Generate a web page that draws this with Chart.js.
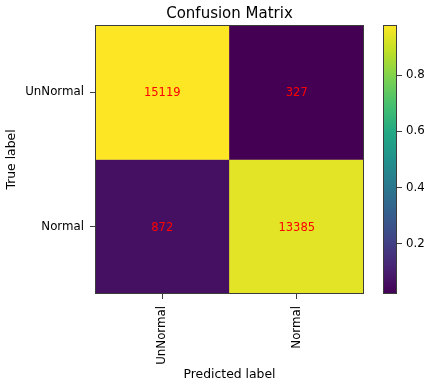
<!DOCTYPE html>
<html>
<head>
<meta charset="utf-8">
<script src="https://cdn.jsdelivr.net/npm/chart.js@4/dist/chart.umd.min.js"></script>
<style>
  html, body { margin: 0; padding: 0; background: #fff; }
  #wrap { position: relative; width: 424px; height: 384px; }
  #wrap canvas { position: absolute; left: 0; top: 0; }
</style>
</head>
<body>
<div id="wrap">
  <canvas id="matrix" width="424" height="384"></canvas>
  <canvas id="cbar" width="424" height="384"></canvas>
</div>
<script>
// Class names shared by both axes
const classLabels = ['UnNormal', 'Normal'];
// Counts per true class (rows), by predicted class (columns)
const rowUnNormal = [15119, 327];
const rowNormal = [872, 13385];
const countRows = [rowUnNormal, rowNormal];
// Colour bar tick values
const colorbarTicks = [0.2, 0.4, 0.6, 0.8];

// Row-normalised rates drive the colours
const rateRows = countRows.map(r => {
  const s = r.reduce((a, b) => a + b, 0);
  return r.map(v => v / s);
});
const allRates = rateRows.flat();
const vmin = Math.min(...allRates);
const vmax = Math.max(...allRates);

// Viridis colormap stops
const viridis = ['#440154', '#482475', '#414487', '#355f8d', '#2a788e', '#21918c',
                 '#22a884', '#44bf70', '#7ad151', '#bddf26', '#fde725'];
function hexToRgb(h) {
  return [parseInt(h.slice(1, 3), 16), parseInt(h.slice(3, 5), 16), parseInt(h.slice(5, 7), 16)];
}
function viridisAt(t) {
  t = Math.max(0, Math.min(1, t));
  const p = t * (viridis.length - 1);
  const i = Math.min(Math.floor(p), viridis.length - 2);
  const f = p - i;
  const a = hexToRgb(viridis[i]), b = hexToRgb(viridis[i + 1]);
  const c = a.map((v, k) => Math.round(v + (b[k] - v) * f));
  return `rgb(${c[0]},${c[1]},${c[2]})`;
}
function colorFor(v) { return viridisAt((v - vmin) / (vmax - vmin)); }

const FONT = 'DejaVu Sans';
const TICK_SIZE = 11.8;
const frameColor = '#3c3c3c';

// Frame around the plotting area
const framePlugin = {
  id: 'frame',
  afterDraw(chart) {
    const { ctx, chartArea: a } = chart;
    ctx.save();
    ctx.strokeStyle = frameColor;
    ctx.lineWidth = 1;
    ctx.strokeRect(Math.round(a.left) + 0.5, Math.round(a.top) + 0.5,
                   Math.round(a.right - a.left) - 1, Math.round(a.bottom - a.top) - 1);
    ctx.restore();
  }
};

// Count annotations in the middle of each cell
const countLabels = {
  id: 'countLabels',
  afterDatasetsDraw(chart) {
    const { ctx } = chart;
    ctx.save();
    ctx.font = `11.5px "${FONT}"`;
    ctx.fillStyle = '#ff0000';
    ctx.textAlign = 'center';
    ctx.textBaseline = 'middle';
    chart.data.datasets.forEach((ds, di) => {
      const meta = chart.getDatasetMeta(di);
      meta.data.forEach((el, ci) => {
        const cy = (el.y + el.base) / 2;
        ctx.fillText(String(countRows[di][ci]), el.x, cy + 1);
      });
    });
    ctx.restore();
  }
};

new Chart(document.getElementById('matrix'), {
  type: 'bar',
  data: {
    labels: classLabels,
    datasets: countRows.map((row, r) => ({
      label: classLabels[r],
      data: row.map(() => [r - 0.5, r + 0.5]),
      backgroundColor: rateRows[r].map(colorFor),
      borderWidth: 0,
      barPercentage: 1,
      categoryPercentage: 1,
      grouped: false
    }))
  },
  options: {
    responsive: false,
    animation: false,
    layout: { padding: { left: 0, top: 0, right: 60, bottom: 0 } },
    plugins: {
      legend: { display: false },
      tooltip: { enabled: false },
      title: {
        display: true,
        text: 'Confusion Matrix',
        fullSize: false,
        color: '#000',
        font: { family: FONT, size: 15, weight: 'normal', lineHeight: 1.2 },
        padding: { top: 5, bottom: 2 }
      }
    },
    scales: {
      x: {
        type: 'category',
        afterFit: s => { s.height = 90; },
        grid: { display: true, drawOnChartArea: false, drawTicks: true, tickLength: 5,
                tickColor: frameColor, offset: false },
        border: { display: false },
        ticks: { color: '#000', font: { family: FONT, size: TICK_SIZE }, minRotation: 90,
                 maxRotation: 90, padding: 7 },
        title: { display: true, text: 'Predicted label', color: '#000',
                 font: { family: FONT, size: 12.4, lineHeight: 1.2 }, padding: { top: 0, bottom: 1.5 } }
      },
      y: {
        type: 'linear',
        min: -0.5,
        max: 1.5,
        reverse: true,
        afterFit: s => { s.width = 95; },
        afterBuildTicks: s => { s.ticks = classLabels.map((_, i) => ({ value: i })); },
        grid: { display: true, drawOnChartArea: false, drawTicks: true, tickLength: 5,
                tickColor: frameColor },
        border: { display: false },
        ticks: { color: '#000', font: { family: FONT, size: TICK_SIZE }, padding: 6,
                 callback: v => classLabels[v] },
        title: { display: true, text: 'True label', color: '#000',
                 font: { family: FONT, size: 12.4, lineHeight: 1.2 }, padding: { top: 4.5, bottom: 0 } }
      }
    }
  },
  plugins: [countLabels, framePlugin]
});

// Colour bar: one floating bar spanning the value range, filled with the colormap
new Chart(document.getElementById('cbar'), {
  type: 'bar',
  data: {
    labels: [''],
    datasets: [{
      data: [[vmin, vmax]],
      barPercentage: 1,
      categoryPercentage: 1,
      borderWidth: 0,
      backgroundColor: ctx => {
        const a = ctx.chart.chartArea;
        if (!a) return viridis[0];
        const g = ctx.chart.ctx.createLinearGradient(0, a.bottom, 0, a.top);
        viridis.forEach((c, i) => g.addColorStop(i / (viridis.length - 1), c));
        return g;
      }
    }]
  },
  options: {
    responsive: false,
    animation: false,
    layout: { padding: { left: 383, top: 25, right: 0, bottom: 90 } },
    plugins: { legend: { display: false }, tooltip: { enabled: false }, title: { display: false } },
    scales: {
      x: { display: false },
      y: {
        type: 'linear',
        position: 'right',
        min: vmin,
        max: vmax,
        afterFit: s => { s.width = 27; },
        afterBuildTicks: s => { s.ticks = colorbarTicks.map(v => ({ value: v })); },
        grid: { display: true, drawOnChartArea: false, drawTicks: true, tickLength: 5,
                tickColor: frameColor },
        border: { display: false },
        ticks: { color: '#000', font: { family: FONT, size: TICK_SIZE }, padding: 4,
                 callback: v => v.toFixed(1) }
      }
    }
  },
  plugins: [framePlugin]
});
</script>
</body>
</html>
